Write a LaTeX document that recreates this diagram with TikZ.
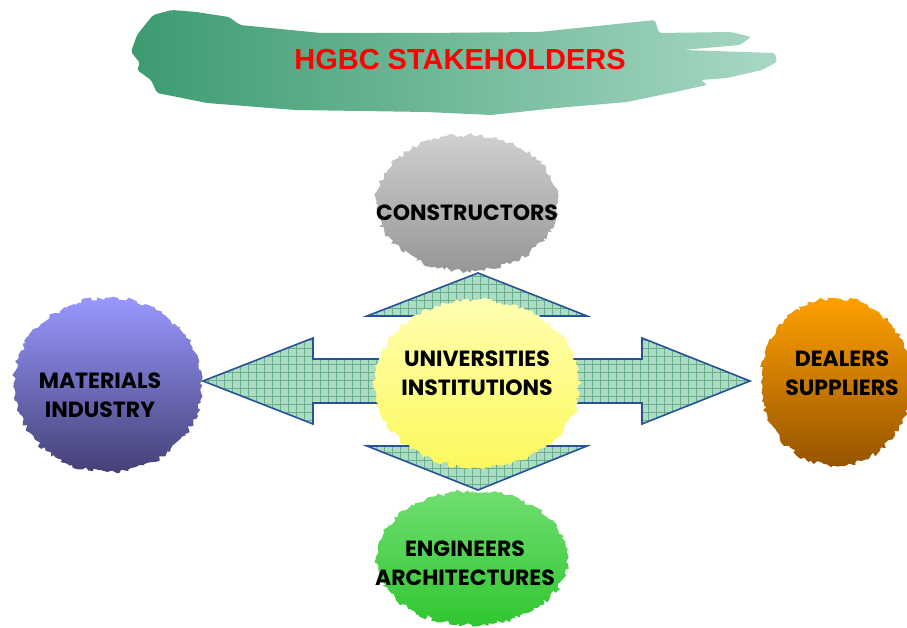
\documentclass[tikz,border=0pt]{standalone}
\usepackage{fontspec}
\setmainfont{Poppins}
\newfontfamily\titlefont{Liberation Sans}
\usetikzlibrary{shapes.geometric,decorations.pathmorphing,patterns.meta}

\definecolor{brushdark}{RGB}{60,155,112}
\definecolor{brushlight}{RGB}{168,216,196}
\definecolor{titlered}{RGB}{255,0,0}
\definecolor{arrowfill}{RGB}{172,220,196}
\definecolor{arrowgrid}{RGB}{104,176,140}
\definecolor{arrowedge}{RGB}{40,82,150}

\tikzset{
	blob/.style={ellipse, inner sep=0pt,
		decorate, decoration={random steps, segment length=3pt, amplitude=2.4pt}},
	blobtext/.style={align=center, inner sep=0pt, font=\bfseries\fontsize{22}{29}\selectfont},
	quad/.style={draw=arrowedge, line width=1.6pt, line join=miter}
}

\begin{document}
\begin{tikzpicture}[x=1pt,y=-1pt]
		\pgfmathsetseed{11}
		\useasboundingbox (0,0) rectangle (907,628);
		%
		% brush stroke behind the title
		\shade[left color=brushdark, right color=brushlight, rounded corners=2pt]
		(137,35) -- (153,15) -- (172,10) -- (196,12) -- (229,17) -- (240,25)
		-- (321,33) -- (421,33) -- (539,32) -- (655,20) -- (659,33) -- (731,32)
		-- (751,37) -- (740,45) -- (683,50) -- (775,53) -- (777,62) -- (762,70)
		-- (727,78) -- (701,80) -- (707,85) -- (675,92) -- (627,102) -- (557,108)
		-- (491,115) -- (426,112) -- (295,110) -- (207,103) -- (157,93) -- (151,80)
		-- (137,70) -- (140,63) -- (131,52) -- cycle;
		\node[text=titlered, font=\titlefont\bfseries\fontsize{29}{30}\selectfont] (title) at (460,60) {HGBC STAKEHOLDERS};
		%
		% four-way arrow
		\fill[arrowfill]
		(478,273) -- (587,316) -- (532,316) -- (532,359) -- (642,359) -- (642,338)
		-- (750,381) -- (642,424) -- (642,403) -- (532,403) -- (532,446) -- (587,446)
		-- (478,490) -- (367,446) -- (423,446) -- (423,403) -- (313,403) -- (313,424)
		-- (203,381) -- (313,338) -- (313,359) -- (423,359) -- (423,316) -- (367,316) -- cycle;
		\fill[pattern={Hatch[angle=0, distance=8pt, line width=0.8pt]}, pattern color=arrowgrid]
		(478,273) -- (587,316) -- (532,316) -- (532,359) -- (642,359) -- (642,338)
		-- (750,381) -- (642,424) -- (642,403) -- (532,403) -- (532,446) -- (587,446)
		-- (478,490) -- (367,446) -- (423,446) -- (423,403) -- (313,403) -- (313,424)
		-- (203,381) -- (313,338) -- (313,359) -- (423,359) -- (423,316) -- (367,316) -- cycle;
		\draw[quad]
		(478,273) -- (587,316) -- (532,316) -- (532,359) -- (642,359) -- (642,338)
		-- (750,381) -- (642,424) -- (642,403) -- (532,403) -- (532,446) -- (587,446)
		-- (478,490) -- (367,446) -- (423,446) -- (423,403) -- (313,403) -- (313,424)
		-- (203,381) -- (313,338) -- (313,359) -- (423,359) -- (423,316) -- (367,316) -- cycle;
		%
		% stakeholder blobs
		\node[blob, top color={rgb,255:red,208;green,208;blue,208}, bottom color={rgb,255:red,150;green,150;blue,150},
		minimum width=182, minimum height=136] (consblob) at (467,203) {};
		\node[blob, top color={rgb,255:red,152;green,152;blue,255}, bottom color={rgb,255:red,68;green,64;blue,118},
		minimum width=188, minimum height=174] (matblob) at (108,385) {};
		\node[blob, top color={rgb,255:red,255;green,160;blue,0}, bottom color={rgb,255:red,150;green,84;blue,0},
		minimum width=150, minimum height=168] (dealblob) at (836,382) {};
		\node[blob, top color={rgb,255:red,112;green,222;blue,112}, bottom color={rgb,255:red,48;green,198;blue,48},
		minimum width=192, minimum height=134] (engblob) at (472,558) {};
		\node[blob, top color={rgb,255:red,255;green,255;blue,176}, bottom color={rgb,255:red,252;green,248;blue,92},
		minimum width=206, minimum height=168] (univblob) at (477,384) {};
		%
		\node[blobtext] (cons) at (467,213) {CONSTRUCTORS};
		\node[blobtext] (mat) at (100,395) {MATERIALS\\INDUSTRY};
		\node[blobtext] (deal) at (842,373) {DEALERS\\SUPPLIERS};
		\node[blobtext] (eng) at (465,563) {ENGINEERS\\ARCHITECTURES};
		\node[blobtext] (univ) at (477,373) {UNIVERSITIES\\INSTITUTIONS};
\end{tikzpicture}
\end{document}
